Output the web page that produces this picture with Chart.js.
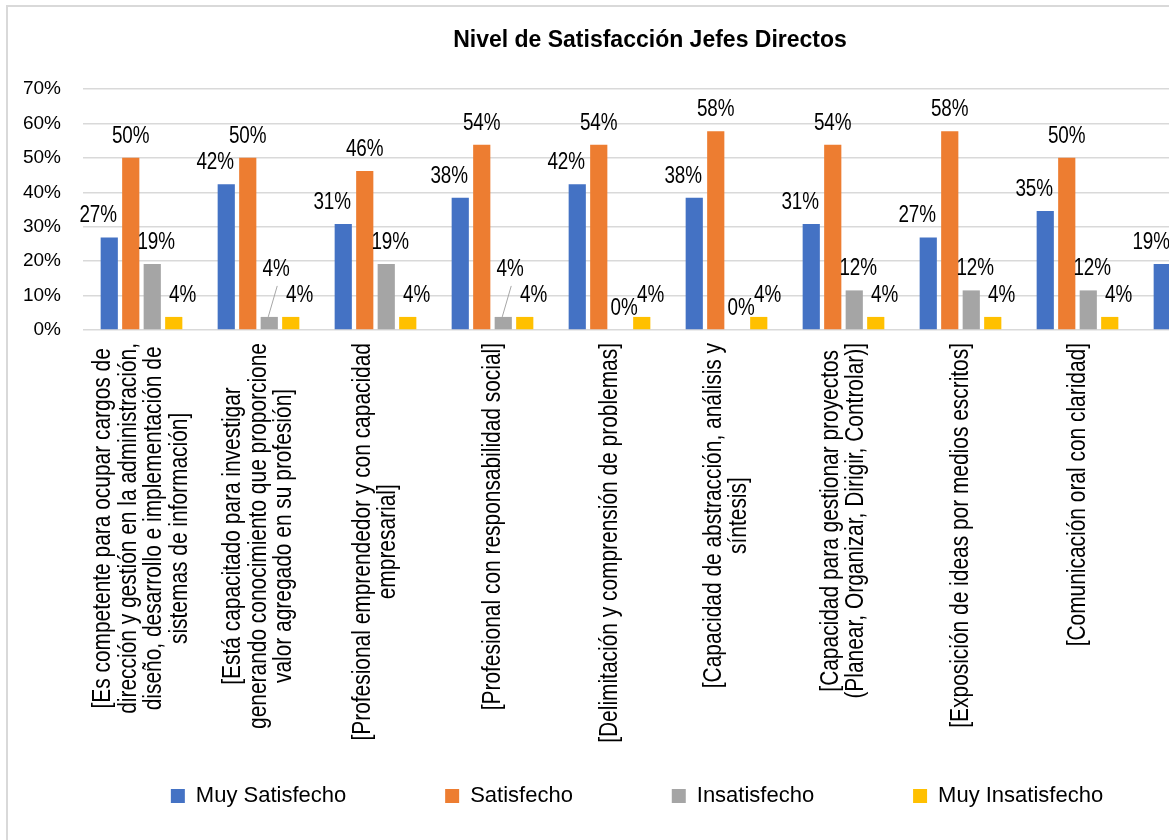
<!DOCTYPE html>
<html><head><meta charset="utf-8">
<script src="https://cdn.jsdelivr.net/npm/chart.js@4/dist/chart.umd.min.js"></script>
<style>
html,body{margin:0;padding:0;background:#fff;overflow:hidden;width:1169px;height:840px;}
#box{position:absolute;left:6px;top:5px;width:1288px;height:910px;border:2px solid #d9d9d9;box-sizing:border-box;background:#fff}
#box canvas{position:absolute;left:0;top:0}
</style></head><body>
<div id="box"><canvas id="c" width="1284" height="900"></canvas></div>
<script>
// ---- data ----
const categories = [
  ["[Es competente para ocupar cargos de", "dirección y gestión en la administración,", "diseño, desarrollo e implementación de", "sistemas de información]"],
  ["[Está capacitado para investigar", "generando conocimiento que proporcione", "valor agregado en su profesión]"],
  ["[Profesional emprendedor y con capacidad", "empresarial]"],
  ["[Profesional con responsabilidad social]"],
  ["[Delimitación y comprensión de problemas]"],
  ["[Capacidad de abstracción, análisis y", "síntesis]"],
  ["[Capacidad para gestionar proyectos", "(Planear, Organizar, Dirigir, Controlar)]"],
  ["[Exposición de ideas por medios escritos]"],
  ["[Comunicación oral con claridad]"],
  [""]
];
const seriesNames = ["Muy Satisfecho", "Satisfecho", "Insatisfecho", "Muy Insatisfecho"];
const muySatisfecho   = [26.9, 42.3, 30.8, 38.4, 42.3, 38.4, 30.8, 26.9, 34.6, 19.2];
const satisfecho      = [50.0, 50.0, 46.2, 53.8, 53.8, 57.7, 53.8, 57.7, 50.0, null];
const insatisfecho    = [19.2, 3.8, 19.2, 3.8, 0, 0, 11.5, 11.5, 11.5, null];
const muyInsatisfecho = [3.8, 3.8, 3.8, 3.8, 3.8, 3.8, 3.8, 3.8, 3.8, null];
const yTicks = [0, 10, 20, 30, 40, 50, 60, 70];
const titleText = "Nivel de Satisfacción Jefes Directos";

// ---- styles ----
const FAM = '"Liberation Sans", Arial, sans-serif';
const colors = ['#4472C4', '#ED7D31', '#A5A5A5', '#FFC000'];
const NARROW = 0.82;              // horizontal condensing of hand-placed texts
const X_FONT = 25.5, X_LH = 25.5, X_PAD = 13;
const LEG_FONT = 22, LEG_P = 50;

function padTo(ctx, text, target) {
  const base = ctx.measureText(text).width;
  let s = text;
  while (ctx.measureText(s + ' ').width - base <= target) s += ' ';
  return s;
}

const titleShiftPlugin = {
  id: 'titleShift',
  afterLayout(chart) {
    const t = chart.titleBlock;
    if (t) { t.left += 13; t.right += 13; }
  }
};

const xLabelPlugin = {
  id: 'xLabels',
  afterDraw(chart) {
    const sc = chart.scales.x, ctx = chart.ctx;
    ctx.save();
    ctx.font = X_FONT + 'px ' + FAM;
    ctx.fillStyle = '#000';
    ctx.textAlign = 'center';
    ctx.textBaseline = 'middle';
    categories.forEach((lines, i) => {
      const px = sc.getPixelForTick(i);
      const maxW = Math.max(...lines.map(l => ctx.measureText(l).width)) * NARROW;
      const yc = sc.top + X_PAD + maxW / 2;
      ctx.save();
      ctx.translate(px, yc);
      ctx.rotate(-Math.PI / 2);
      ctx.scale(NARROW, 1);
      lines.forEach((l, j) => ctx.fillText(l, 0, (j - (lines.length - 1) / 2) * X_LH));
      ctx.restore();
    });
    ctx.restore();
  }
};

const valueLabelPlugin = {
  id: 'valueLabels',
  afterDatasetsDraw(chart) {
    const ctx = chart.ctx;
    const dx = [-11, 0, 4, 9];
    const gap = 15;
    ctx.save();
    ctx.font = '23px ' + FAM;
    ctx.fillStyle = '#000';
    ctx.textAlign = 'center';
    ctx.textBaseline = 'alphabetic';
    chart.data.datasets.forEach((ds, di) => {
      const meta = chart.getDatasetMeta(di);
      meta.data.forEach((bar, i) => {
        const v = ds.data[i];
        if (v == null) return;
        let x = bar.x + dx[di], y = bar.y - gap;
        if (di === 2) {
          const nx = chart.data.datasets[3].data[i];
          if (nx != null && v > 0 && Math.round(v) === Math.round(nx)) {
            x = bar.x + 7; y = bar.y - 41;
            ctx.save();
            ctx.strokeStyle = '#a6a6a6'; ctx.lineWidth = 1;
            ctx.beginPath(); ctx.moveTo(bar.x - 1, bar.y); ctx.lineTo(bar.x + 8, y + 10); ctx.stroke();
            ctx.restore();
          }
        }
        ctx.save();
        ctx.translate(x, y);
        ctx.scale(NARROW, 1);
        ctx.fillText(Math.round(v) + '%', 0, 0);
        ctx.restore();
      });
    });
    ctx.restore();
  }
};

const seriesData = [muySatisfecho, satisfecho, insatisfecho, muyInsatisfecho];
new Chart(document.getElementById('c'), {
  type: 'bar',
  data: {
    labels: categories,
    datasets: seriesData.map((d, i) => ({
      label: seriesNames[i], data: d, backgroundColor: colors[i], borderWidth: 0,
      categoryPercentage: 0.735, barPercentage: 0.8
    }))
  },
  options: {
    responsive: false, animation: false, devicePixelRatio: 1,
    layout: { padding: { left: 13, right: 39, top: 0, bottom: 90 } },
    plugins: {
      title: { display: true, text: titleText, color: '#000',
        font: { family: FAM, size: 23, weight: 'bold', lineHeight: 1.2 },
        padding: { top: 20, bottom: 34.4 } },
      legend: {
        position: 'bottom',
        labels: {
          boxWidth: 14, boxHeight: 14, padding: LEG_P, color: '#000',
          font: { family: FAM, size: LEG_FONT },
          generateLabels(chart) {
            const items = Chart.defaults.plugins.legend.labels.generateLabels(chart);
            const ctx = chart.ctx;
            ctx.save();
            ctx.font = LEG_FONT + 'px ' + FAM;
            items.forEach((it, i) => {
              if (i < items.length - 1) it.text = padTo(ctx, it.text, 103 - LEG_P);
            });
            ctx.restore();
            return items;
          }
        }
      },
      tooltip: { enabled: false }
    },
    scales: {
      x: {
        grid: { display: false }, border: { display: false },
        ticks: { color: 'rgba(0,0,0,0)', font: { family: FAM, size: X_FONT * NARROW }, padding: X_PAD,
          minRotation: 90, maxRotation: 90, autoSkip: false }
      },
      y: {
        min: 0, max: 70,
        afterFit(scale) { scale.width = 62; },
        afterBuildTicks(scale) { scale.ticks = yTicks.map(v => ({ value: v })); },
        grid: { color: '#d9d9d9', lineWidth: 1.5, drawTicks: false },
        border: { display: false },
        ticks: { color: '#000', padding: 22, font: { family: FAM, size: 19 },
          callback: v => v + '%' }
      }
    }
  },
  plugins: [titleShiftPlugin, valueLabelPlugin, xLabelPlugin]
});
</script>
</body></html>
